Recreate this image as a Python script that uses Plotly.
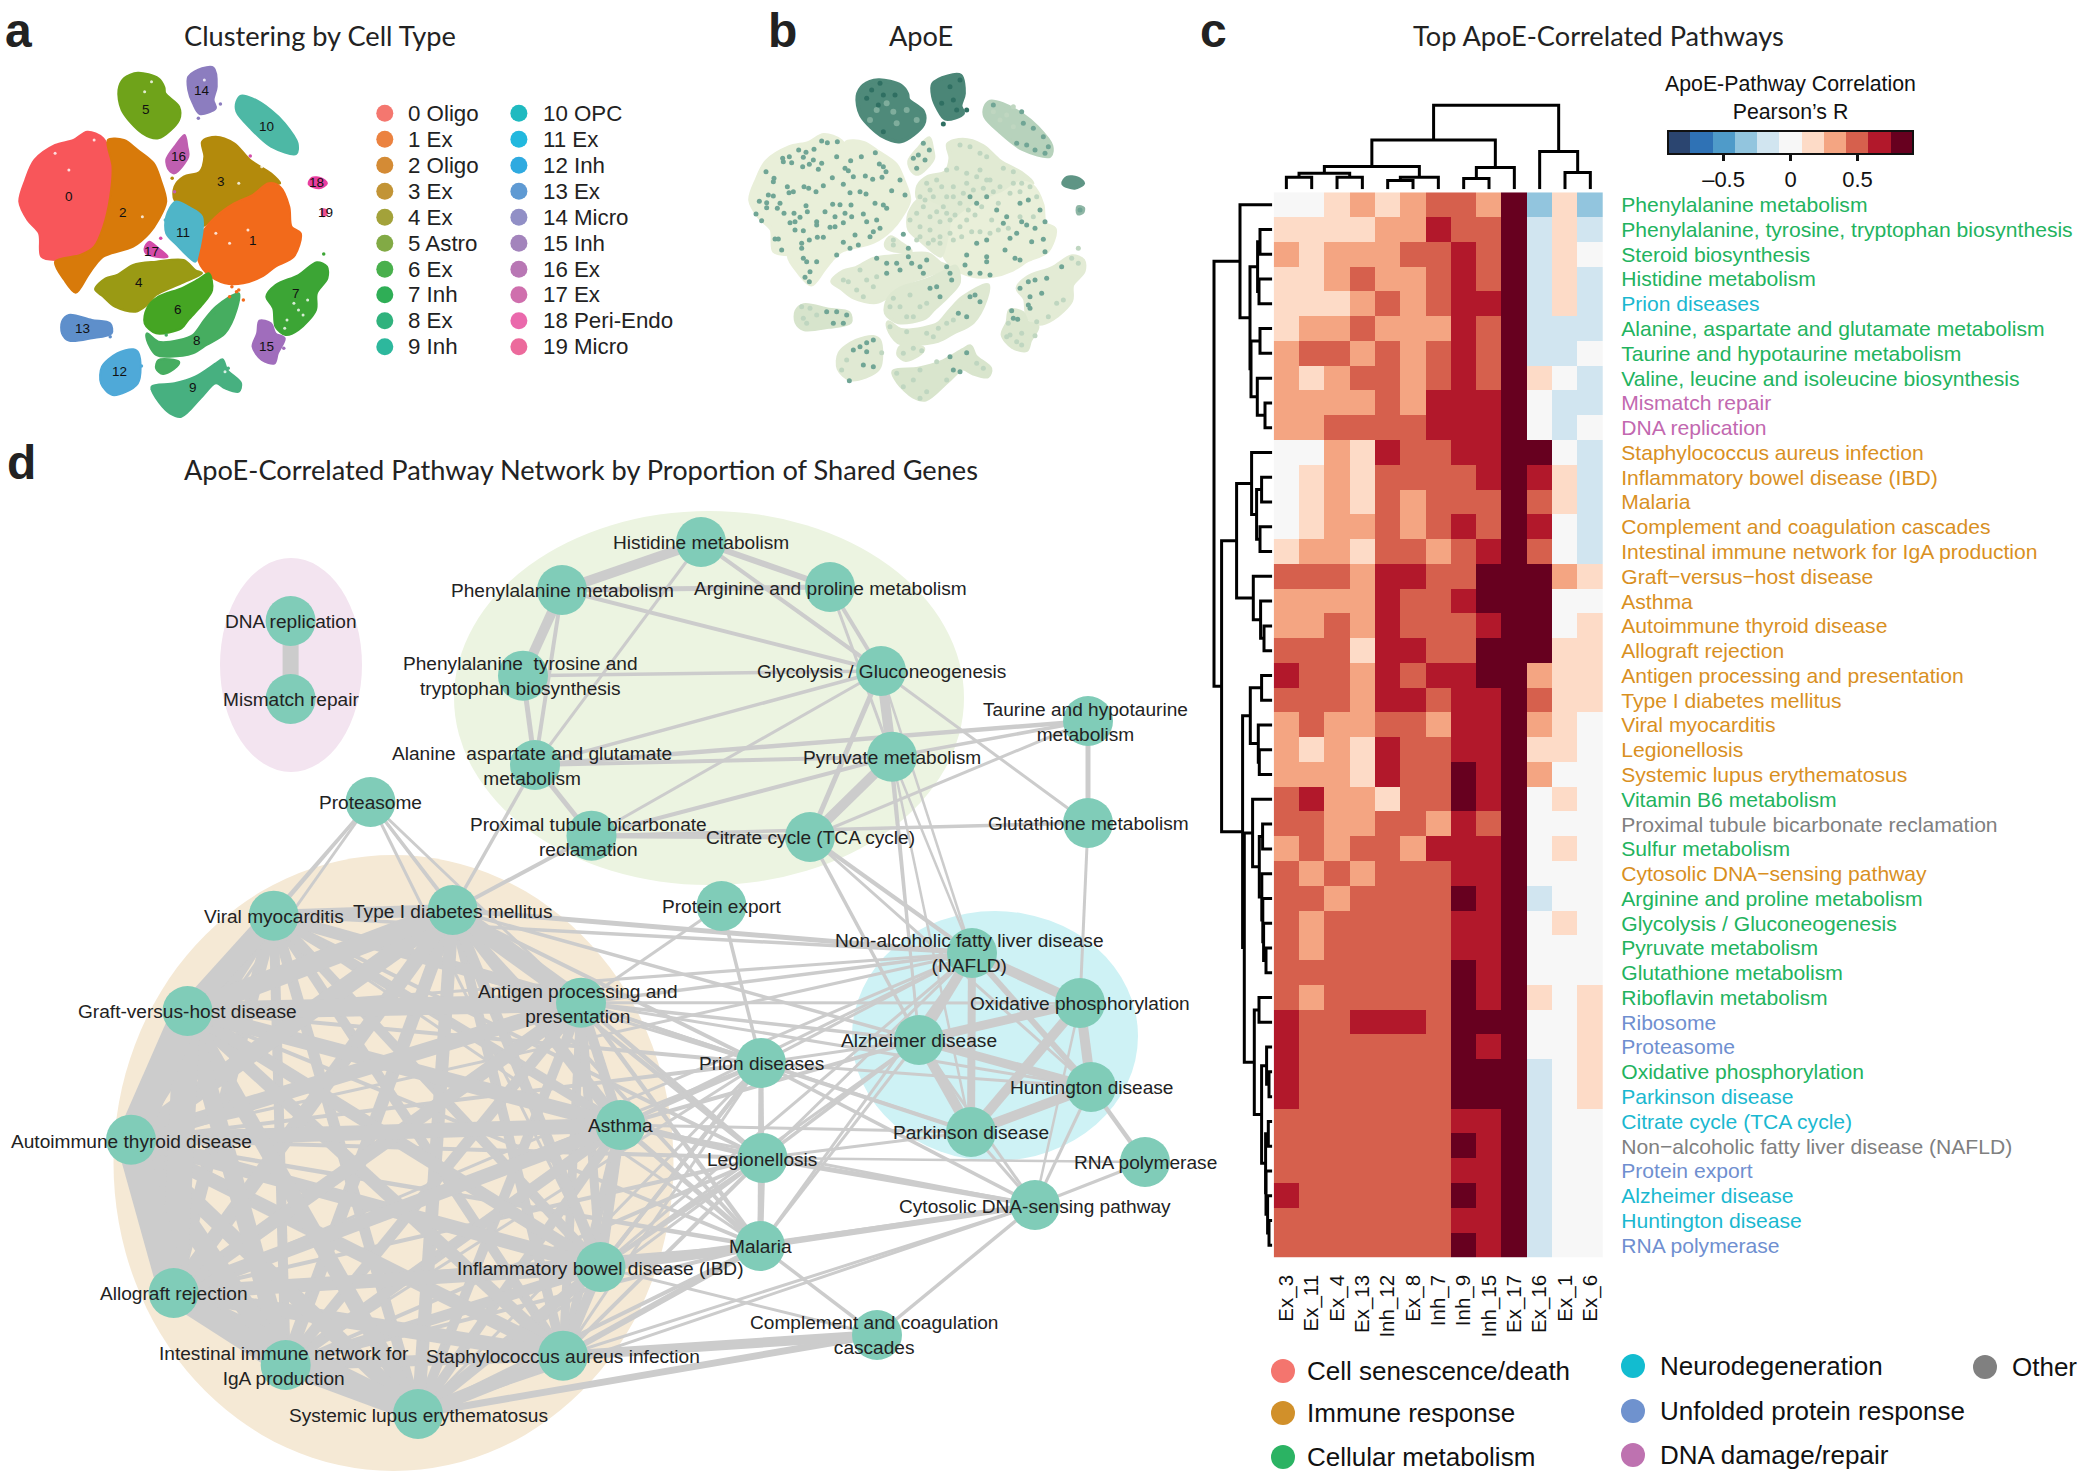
import plotly.graph_objects as go

W, H = 2083, 1477
SANS = "Liberation Sans"
TITLE = "Lato"

# ---------- panel a / b : embedding outlines (t-SNE units) ----------
c0 = [(190,395),(225,415),(245,500),(240,590),(225,680),(205,740),(175,765),(120,780),(90,770),(85,700),(60,660),(42,605),(55,540),(75,480),(120,435),(160,420)]
c1 = [(585,550),(610,560),(630,620),(635,680),(655,700),(640,770),(600,800),(570,830),(530,850),(490,850),(450,820),(430,770),(440,700),(470,650),(510,610),(550,585)]
c2 = [(235,420),(270,420),(300,450),(335,490),(350,540),(362,605),(345,660),(325,700),(290,740),(225,770),(205,800),(190,830),(165,878),(140,840),(120,785),(175,765),(205,740),(225,680),(240,590),(245,500)]
c3 = [(470,410),(510,430),(545,480),(590,520),(610,550),(585,550),(550,585),(510,610),(470,650),(440,680),(440,650),(410,620),(380,600),(380,560),(400,530),(435,515),(445,470),(440,425)]
c4 = [(290,795),(340,785),(400,780),(425,810),(440,820),(395,850),(340,885),(320,915),(295,935),(250,920),(225,890),(207,868),(230,835),(255,825)]
c5 = [(300,218),(345,235),(358,262),(360,280),(390,320),(390,360),(345,415),(310,400),(265,330),(258,270),(270,235)]
c6 = [(455,820),(462,870),(440,915),(410,960),(395,985),(340,1000),(315,970),(320,925),(345,890),(395,865),(430,840)]
c7 = [(690,787),(712,800),(713,835),(690,880),(688,930),(650,990),(622,1005),(600,980),(595,925),(580,890),(600,855),(650,825)]
c8 = [(520,880),(515,930),(490,1000),(450,1035),(420,1060),(370,1070),(340,1065),(320,1020),(320,1000),(345,1025),(390,1020),(420,1005),(445,960),(470,920)]
c8b = [(345,1080),(390,1085),(385,1100),(355,1122),(340,1105)]
c9 = [(485,1078),(495,1110),(525,1150),(520,1175),(490,1165),(470,1150),(440,1190),(395,1250),(370,1240),(340,1195),(330,1160),(380,1150),(425,1130),(470,1090)]
c10 = [(525,287),(550,295),(590,330),(620,370),(648,430),(645,462),(590,440),(545,385),(515,335),(515,305)]
c11 = [(382,605),(410,620),(440,650),(430,770),(425,785),(385,735),(362,700),(362,650)]
c12 = [(290,1048),(302,1060),(300,1150),(245,1185),(220,1150),(222,1100),(255,1060)]
c13 = [(150,945),(200,960),(240,970),(243,1000),(200,1015),(150,1022),(135,1000),(135,965)]
c14 = [(440,205),(465,203),(472,260),(465,300),(470,325),(435,342),(420,310),(410,270),(410,230)]
c15 = [(565,962),(590,970),(600,1000),(620,1015),(605,1060),(598,1090),(570,1080),(550,1040),(560,1000)]
c16 = [(402,405),(408,440),(410,470),(380,520),(368,510),(362,480),(380,440)]
c17 = [(325,725),(345,745),(365,770),(340,770),(318,760),(315,745)]
c18 = [(680,533),(700,535),(712,550),(695,565),(672,552)]
c19 = [(702,628),(712,632),(710,645),(702,648)]

cluster_outlines = [c0,c2,c3,c1,c11,c16,c17,c4,c6,c8,c8b,c5,c7,c9,c10,c12,c13,c14,c15,c18,c19]
cluster_ids =      [0, 2, 3, 1, 11, 16, 17, 4, 6, 8, 8, 5, 7, 9, 10, 12, 13, 14, 15, 18, 19]
cluster_colors = ["#F8565A","#F26A1B","#D87A0A","#B38A0C","#9A9A14","#6FA31A","#45A523","#3CA535","#46AD60","#47B080",
                  "#4DB8A5","#4FB5C8","#4FA9D8","#5E8FCB","#8C7DBF","#A06DBC","#BF5FB0","#D34CA9","#E83EA0","#EE4F90"]
apoe_fill = ["#E9EFD9","#E9EFD9","#E9EFD9","#E1EAD3","#E3EBD5","#4F8A7A","#DEE8D1","#E3EBD5","#DEE8D1","#D9E5CD",
             "#B7D2BC","#E3EBD5","#E0E9D3","#D7E4CC","#4B8677","#DCE7CF","#E3EBD5","#E3EBD5","#5F9585","#8FB6A5"]
label_x = [150,552,268,482,302,319,387,645,428,420,580,398,260,179,439,580,388,330,690,708]
label_y = [590,720,638,544,848,328,928,880,1020,1163,378,697,1115,985,272,1040,468,755,548,637]
stray_x = [375,380,350,360,480,432,545,705,500,520,530,465,618,308,332,497,515,505,362,240]
stray_y = [535,575,715,660,312,355,468,762,890,870,900,938,1045,1098,1168,1105,875,860,1005,1010]
stray_id = [3,16,17,11,14,14,17,7,1,1,1,8,15,12,9,9,1,1,8,13]
gap_x = [640,660,670,625,650,620,315,330,410,445,490,310,150,120,540,500,470,520,570,205]
gap_y = [910,945,900,960,930,985,275,245,300,240,1115,650,510,460,690,730,700,550,500,420]

legend_names = ["0 Oligo","1 Ex","2 Oligo","3 Ex","4 Ex","5 Astro","6 Ex","7 Inh","8 Ex","9 Inh",
                "10 OPC","11 Ex","12 Inh","13 Ex","14 Micro","15 Inh","16 Ex","17 Ex","18 Peri-Endo","19 Micro"]
legend_colors = ["#F4776F","#EB8240","#D48B35","#C29436","#A3A23A","#82AA45","#49B04C","#2FAE56","#30B27D","#2DB89D",
                 "#1FBAC0","#22B8DE","#2FAAE0","#5F9AD3","#918FC6","#A384BC","#B877B4","#CF6FAD","#EA69AC","#EC6A9C"]
legend_y = [340,418,496,574,652,730,808,884,962,1040]

# ---------- panel b : expressing cells ----------
dots_dark = [(305,303),(322,308),(352,305),(236,330),(258,337),(282,328),(188,355),(208,350),(190,365),(215,368),(250,352),(280,360),(305,370),(350,350),(392,362),(424,350),(466,338),(248,380),(268,373),(295,388),(375,385),(385,392),(400,410),(478,372),(490,380),(138,395),(162,415),(160,425),(436,408),(458,418),(486,412),(498,395),(337,413),(370,433),(202,440),(207,458),(220,455),(252,440),(266,445),(288,455),(310,437),(390,458),(420,455),(438,462),(515,452),(540,420),(555,465),(118,484),(145,465),(160,468),(140,488),(180,490),(140,503),(172,505),(258,497),(338,493),(360,494),(393,495),(465,490),(490,495),(500,505),(108,522),(192,520),(222,520),(262,515),(315,515),(375,520),(430,522),(125,542),(240,532),(225,545),(210,548),(290,545),(345,530),(395,530),(440,545),(470,540),(225,570),(250,572),(290,555),(330,562),(345,560),(370,548),(480,565),(460,575),(165,597),(175,597),(268,600),(292,592),(310,592),(370,607),(405,585),(450,590),(185,630),(245,610),(245,625),(390,625),(415,615),(350,645),(250,655),(260,665),(290,665),(270,695),(255,712),(268,725),
             (750,470),(770,490),(800,470),(830,510),(860,530),(900,490),(925,480),(960,510),(975,545),(920,555),(945,565),(890,580),(870,595),(905,545),(850,550),(800,600),(770,610),(740,645),(735,675),(800,650),(800,665),(855,630),(885,655),(900,660),(935,605),(970,598),(975,635),(750,700),(780,700),(810,705),(690,700),(695,720),(680,680),(565,625),(550,583),
             (470,655),(500,670),(530,670),(565,650),(575,670),(600,680),(620,660),(610,700),(540,690),(500,700),(630,745),(650,740),(660,770),(765,765),(750,770),(740,830),(780,785),(715,820),
             (900,745),(925,725),(945,720),(980,715),(1025,680),(930,770),(965,760),(925,795),(930,805),(875,812),(880,835),(893,838),(320,815),(350,815),(380,825),(370,850),(340,850),
             (460,900),(440,908),(420,920),(400,930),(430,975),(460,980),(388,1022),(440,935),(690,950),(740,938),(700,990),(720,995),(610,310),(628,330),(595,345),(615,360),(580,355),(590,385),(1080,510),(820,195),(905,215),(910,250),(940,265),(970,290),(985,320),(920,315),(945,330),(975,340),(890,310)]
dots_light = [(720,315),(750,320),(780,340),(800,350),(680,390),(710,385),(740,400),(780,390),(800,420),(850,385),(880,395),(620,430),(650,420),(700,440),(740,430),(770,410),(810,420),(640,470),(680,470),(720,490),(610,500),(630,530),(670,500),(570,540),(600,560),(630,570),(690,540),(720,560),(590,600),(625,610),(660,590),(690,580),(740,540),(520,600),(520,615),(880,430),(930,440),(900,455),
              (600,470),(615,480),(650,515),(660,545),(680,520),(705,525),(745,510),(765,525),(785,500),(815,540),(835,490),(870,460),(905,430),(820,455),(840,440),(790,445),(760,450),(730,460),(700,470),(665,440),(630,450),(590,520),(600,590),(640,600),(660,610),(700,600),(725,590),(755,575),(780,575),(810,580),(835,570),(865,565),(900,530),(940,530),(950,470),
              (370,720),(385,725),(410,750),(430,770),(460,740),(420,690),(440,720),(470,710),(520,775),(540,800),(560,830),(580,830),(600,800),(570,765),(510,800),(620,790),(700,840),(680,850),(655,865),(620,880),(560,875),(510,860),(640,890),
              (1055,655),(1075,670),(1010,790),(985,830),(1030,780),(950,845),(865,850),(870,885),(905,880),(905,915),(890,905),(860,890),(245,800),(270,805),(290,825),(250,835),(260,850),(380,960),(365,990),(650,965),(600,990),(580,1020),(620,1055),(600,1075),(550,1040),(530,1000),(680,1020),(790,985),(770,970),(550,940),(580,925),(605,932),(820,215),(880,200),(840,240),(880,260),(860,225),(485,938),(945,887),(1075,625)]
dots_teal = [(455,150),(490,165),(525,165),(475,195),(440,175),(490,275),(690,140),(720,120),(710,210),(665,190),(700,180),(480,130),(740,210),(670,252)]
dots_pale_teal = [(500,190),(520,215),(560,210),(470,210),(530,250),(450,240),(590,240)]

# ---------- panel c : heatmap ----------
col_labels = ["Ex_3","Ex_11","Ex_4","Ex_13","Inh_12","Ex_8","Inh_7","Inh_9","Inh_15","Ex_17","Ex_16","Ex_1","Ex_6"]
row_labels = ["Phenylalanine metabolism","Phenylalanine, tyrosine, tryptophan biosynthesis","Steroid biosynthesis","Histidine metabolism","Prion diseases","Alanine, aspartate and glutamate metabolism","Taurine and hypotaurine metabolism","Valine, leucine and isoleucine biosynthesis","Mismatch repair","DNA replication",
 "Staphylococcus aureus infection","Inflammatory bowel disease (IBD)","Malaria","Complement and coagulation cascades","Intestinal immune network for IgA production","Graft−versus−host disease","Asthma","Autoimmune thyroid disease","Allograft rejection","Antigen processing and presentation",
 "Type I diabetes mellitus","Viral myocarditis","Legionellosis","Systemic lupus erythematosus","Vitamin B6 metabolism","Proximal tubule bicarbonate reclamation","Sulfur metabolism","Cytosolic DNA−sensing pathway","Arginine and proline metabolism","Glycolysis / Gluconeogenesis",
 "Pyruvate metabolism","Glutathione metabolism","Riboflavin metabolism","Ribosome","Proteasome","Oxidative phosphorylation","Parkinson disease","Citrate cycle (TCA cycle)","Non−alcoholic fatty liver disease (NAFLD)","Protein export","Alzheimer disease","Huntington disease","RNA polymerase"]
MET,NEU,DNA_C,IMM,OTH,UPR = "#22B35E","#1AB8D0","#C268B0","#D9901F","#808080","#6F8FD0"
row_colors = [MET,MET,MET,MET,NEU,MET,MET,MET,DNA_C,DNA_C, IMM,IMM,IMM,IMM,IMM,IMM,IMM,IMM,IMM,IMM,
              IMM,IMM,IMM,IMM,MET,OTH,MET,IMM,MET,MET, MET,MET,MET,UPR,UPR,MET,NEU,NEU,OTH,UPR,NEU,NEU,UPR]
heat_levels = [
 [0,0,1,2,1,2,3,3,2,5,-2,1,-2],[1,1,1,1,2,2,4,3,3,5,-1,1,-1],[2,1,2,2,2,3,3,4,3,5,-1,1,0],[1,1,2,3,2,2,3,4,3,5,-1,1,-1],
 [1,1,1,2,3,2,3,4,4,5,-1,1,-1],[1,2,2,3,2,2,2,4,3,5,-1,-1,-1],[2,3,3,2,3,2,3,4,3,5,-1,-1,0],[2,1,2,3,3,2,3,4,3,5,1,0,-1],
 [2,2,2,2,3,2,4,4,4,5,0,-1,-1],[2,2,3,3,3,3,4,4,4,5,0,-1,0],[0,0,2,1,4,3,3,4,4,5,5,0,-1],[0,1,2,1,3,3,3,3,4,5,4,1,-1],
 [0,1,2,1,3,2,3,3,3,5,3,1,-1],[0,1,2,2,3,2,3,4,3,5,4,0,-1],[1,2,2,1,3,3,2,3,4,5,3,0,-1],[3,3,3,2,4,4,3,3,5,5,5,2,1],
 [2,2,2,2,4,3,3,4,5,5,5,0,0],[2,2,3,2,4,3,3,3,4,5,5,0,1],[3,3,3,1,4,4,3,3,5,5,5,1,1],[4,3,3,2,4,3,4,4,5,5,2,1,1],
 [3,3,3,2,4,4,3,4,4,5,3,1,1],[2,3,2,2,3,3,2,4,4,5,2,1,0],[2,1,2,1,4,3,3,4,4,5,1,1,0],[2,2,2,1,4,3,3,5,4,5,2,0,0],
 [3,4,2,2,1,3,3,5,4,5,0,1,0],[3,3,2,2,3,3,2,4,3,5,0,0,0],[2,3,2,3,3,2,4,4,4,5,0,1,0],[3,2,3,2,3,3,3,4,4,5,0,0,0],
 [3,3,2,3,3,3,3,5,4,5,-1,0,0],[3,2,3,3,3,3,3,4,4,5,0,1,0],[3,2,3,3,3,3,3,4,4,5,0,0,0],[3,3,3,3,3,3,3,5,4,5,0,0,0],
 [3,2,3,3,3,3,3,5,4,5,1,0,1],[4,3,3,4,4,4,3,5,5,5,0,0,1],[4,3,3,3,3,3,3,5,4,5,0,0,1],[4,3,3,3,3,3,3,5,5,5,-1,0,1],
 [4,3,3,3,3,3,3,5,5,5,-1,0,1],[3,3,3,3,3,3,3,4,4,5,-1,0,0],[3,3,3,3,3,3,3,5,4,5,-1,0,0],[3,3,3,3,3,3,3,4,4,5,-1,0,0],
 [4,3,3,3,3,3,3,5,4,5,-1,0,0],[3,3,3,3,3,3,3,4,4,5,-1,0,0],[3,3,3,3,3,3,3,5,4,5,-1,0,0]]
R_PER_LEVEL = 0.1664
R_LIMIT = 0.915
bin_colors = ["#2B4570","#2F72B5","#4F9BC9","#92C5DE","#D1E5F0","#F7F7F7","#FDDBC7","#F4A582","#D6604D","#B2182B","#67001F"]

# dendrogram merges: (left, right, height); ints are leaves, "mK" refers to the K-th merge
row_merges = [(1,2,12.3),(3,4,13.3),("m0","m1",14.7),(5,6,12.3),(8,9,7.3),(7,"m4",15),("m3","m5",21.3),("m2","m6",22.3),(0,"m7",32.3),
 (11,12,10.7),(13,14,12.3),("m9","m10",15.7),(10,"m11",20.7),(17,18,8.3),(16,"m13",11.7),(15,"m14",19),("m12","m15",35.7),
 (19,20,10.7),(22,23,13),(21,"m18",14),("m17","m19",22),(25,26,9.7),(30,31,6.3),(29,"m22",8.7),(28,"m23",9.5),(27,"m24",10.5),("m21","m25",13),(24,"m26",19.7),
 (32,33,13.3),(35,36,3.3),(34,"m29",5.7),(37,38,4),(41,42,3.3),(40,"m32",4.7),(39,"m33",6.3),("m31","m34",6.7),("m30","m35",10.7),("m28","m36",18),
 ("m27","m37",28),("m20","m38",29.7),("m16","m39",50.7),("m8","m40",58.3)]
col_merges = [(0,1,12),(2,3,12),("m0","m1",16),(4,5,8.7),("m3",6,12),("m2","m4",22.7),(7,8,10.7),("m6",9,21.7),("m5","m7",49.3),(11,12,16.7),(10,"m9",37.7),("m8","m10",84)]

# ---------- panel d : pathway network (layout units) ----------
node_keys = ["DNA","MMR","PHE","PTT","HIS","ARG","GLY","PYR","ALA","PRX","TCA","TAU","GSH","PRT","VIR","T1D","PEX","AGP","NAF","OXP","ALZ","HUN","PAR","PRI","AST","LEG","RNA","CDS","MAL","IBD","STA","CMP","GVH","AIT","ALL","IGA","SLE"]
node_x = [290.6,290.6,562,523,701,830,881,892,535,591.5,810,1088,1088,370.5,273.7,452.7,721.5,581,972,1080,919,1091,971,761,620.5,762.5,1145,1035,760,600.5,563,877,187.5,131,173.7,285.7,418]
node_y = [621,699,590,675.7,542,587,671,756.7,765,835.7,837,721,823,802,915.7,910,906,1002.7,953,1003,1040,1087,1132,1063,1125,1158,1162,1205,1246,1267,1355.7,1335,1011,1139.7,1293,1365,1414]
node_text = ["DNA replication","Mismatch repair","Phenylalanine metabolism","Phenylalanine\u00a0 tyrosine and<br>tryptophan biosynthesis","Histidine metabolism","Arginine and proline metabolism","Glycolysis / Gluconeogenesis","Pyruvate metabolism",
 "Alanine\u00a0 aspartate and glutamate<br>metabolism","Proximal tubule bicarbonate<br>reclamation","Citrate cycle (TCA cycle)","Taurine and hypotaurine<br>metabolism","Glutathione metabolism","Proteasome","Viral myocarditis","Type I diabetes mellitus","Protein export",
 "Antigen processing and<br>presentation","Non-alcoholic fatty liver disease<br>(NAFLD)","Oxidative phosphorylation","Alzheimer disease","Huntington disease","Parkinson disease","Prion diseases","Asthma","Legionellosis","RNA polymerase","Cytosolic DNA-sensing pathway","Malaria",
 "Inflammatory bowel disease (IBD)","Staphylococcus aureus infection","Complement and coagulation<br>cascades","Graft-versus-host disease","Autoimmune thyroid disease","Allograft rejection","Intestinal immune network for<br>IgA production","Systemic lupus erythematosus"]
text_x = [290.6,290.6,562,520,701,830,881,892,532,588,810,1085,1088,370.5,273.7,453,722,578,969,1080,919,1091,971,761,620.5,762,1145,1035,760,600.5,563,874,187,131,174,283.5,418]
text_y = [621,699,590,676,542,588,671,757,766,836.6,837,721.7,823.7,802,916,911,906.7,1004,953,1003,1040,1087.7,1132,1063,1125.7,1159,1162,1206,1246,1268,1356,1335,1011.7,1141,1293,1365.7,1415]

edges = [("DNA","MMR",16),
 ("HIS","PHE",10),("PHE","ARG",5),("HIS","ARG",6),("HIS","GLY",4),("HIS","ALA",3),("PHE","PTT",10),("PHE","ALA",4),("PTT","ALA",5),("PHE","GLY",4),("PTT","GLY",3.5),
 ("ARG","GLY",4),("ARG","PYR",3),("GLY","PYR",10),("GLY","TCA",5),("PYR","TCA",10),("ALA","PYR",4),("ALA","GLY",3.5),("ALA","PRX",5),("ALA","T1D",3.5),("PRX","PYR",4),("PRX","GLY",3),("PRX","TCA",5),
 ("PYR","TAU",3.5),("ALA","TAU",4.5),("TCA","TAU",3),("TAU","GSH",5),("PRX","GSH",3.5),("GLY","GSH",3),("GSH","OXP",3),("T1D","PRX",4),
 ("PRT","VIR",3),("PRT","T1D",3),("PRT","GVH",3),("PRT","AGP",3),("PRT","AST",3),("PRT","AIT",3),("PRT","IBD",3),
 ("VIR","T1D",12),("TCA","NAF",4),("TCA","ALZ",3.5),("TCA","HUN",3),("PYR","NAF",2.5),("PYR","ALZ",2.5),("PYR","PAR",2.5),("GLY","ALZ",2.5),("GLY","NAF",2.5),
 ("T1D","NAF",5),("VIR","NAF",3.5),("T1D","ALZ",3.5),("GVH","NAF",3),("AIT","NAF",3),("ALL","NAF",3),
 ("NAF","OXP",10),("NAF","ALZ",10),("NAF","PAR",8),("NAF","HUN",6),("OXP","ALZ",9),("OXP","HUN",10),("OXP","PAR",10),("ALZ","HUN",9),("ALZ","PAR",10),("HUN","PAR",10),("HUN","RNA",4.5),("PAR","CDS",3),("HUN","CDS",3),("ALZ","CDS",3),("OXP","CDS",2.5),
 ("PEX","PRI",3.5),("PEX","AGP",3),("PRI","NAF",3),("PRI","ALZ",3),("PRI","LEG",4),("PRI","PAR",4),("PRI","MAL",5),("PRI","IBD",4),("PRI","CDS",3.5),("PRI","HUN",3),
 ("LEG","ALZ",3.5),("LEG","PAR",3),("LEG","NAF",3),("LEG","MAL",6),("LEG","CDS",5),("MAL","CDS",6),("MAL","ALZ",3),("MAL","NAF",3),("IBD","MAL",10),("STA","MAL",6),("STA","CMP",10),("SLE","CMP",7),("MAL","CMP",3.5),("CDS","CMP",3.5),("IBD","CMP",3),("RNA","CDS",3),("LEG","RNA",2.5),
 ("AGP","NAF",3.5),("AGP","ALZ",3.5),("AGP","PRI",4),("AGP","LEG",4.5),("AGP","MAL",4.5),("AGP","PAR",3),("AGP","HUN",3),("AGP","OXP",3),
 ("AST","NAF",3),("AST","ALZ",4),("AST","PRI",4),("AST","LEG",4.5),("AST","MAL",5),("AST","PAR",3),("AST","CDS",3),
 ("IBD","LEG",4.5),("IBD","PRI",4),("IBD","NAF",3),("IBD","ALZ",3),("IBD","CDS",4),("STA","LEG",4),("STA","PRI",3),("STA","CDS",3),("SLE","MAL",4),("SLE","LEG",3),("SLE","PRI",3),("SLE","CDS",3),
 ("IGA","LEG",4),("IGA","MAL",4),("IGA","PRI",3),("ALL","LEG",4),("ALL","MAL",4),("ALL","PRI",3),("AIT","LEG",4),("AIT","MAL",4.5),("AIT","PRI",4),("GVH","LEG",4),("GVH","MAL",4),("GVH","PRI",4),("T1D","LEG",4.5),("T1D","MAL",4),("T1D","PRI",4),("VIR","LEG",4),("VIR","MAL",3),("VIR","PRI",3),
 ("VIR","GVH",20),("VIR","AIT",15),("VIR","ALL",13),("VIR","IGA",10),("VIR","SLE",11),("VIR","STA",10),("VIR","IBD",10),("VIR","AST",10),("VIR","AGP",12),
 ("T1D","GVH",20),("T1D","AIT",18),("T1D","ALL",15),("T1D","IGA",13),("T1D","SLE",13),("T1D","STA",10),("T1D","IBD",11),("T1D","AST",12),("T1D","AGP",18),
 ("GVH","AIT",30),("GVH","ALL",26),("GVH","IGA",18),("GVH","SLE",16),("GVH","STA",13),("GVH","IBD",13),("GVH","AST",15),("GVH","AGP",18),
 ("AIT","ALL",30),("AIT","IGA",20),("AIT","SLE",16),("AIT","STA",14),("AIT","IBD",14),("AIT","AST",15),("AIT","AGP",15),
 ("ALL","IGA",23),("ALL","SLE",20),("ALL","STA",15),("ALL","IBD",14),("ALL","AST",14),("ALL","AGP",14),
 ("IGA","SLE",18),("IGA","STA",11),("IGA","IBD",11),("IGA","AST",11),("IGA","AGP",11),
 ("SLE","STA",13),("SLE","IBD",11),("SLE","AST",10),("SLE","AGP",10),
 ("STA","IBD",10),("STA","AST",9),("STA","AGP",9),("IBD","AST",10),("IBD","AGP",9),("AST","AGP",10)]

hull_cx = [291,709,393.5,995]
hull_cy = [665,698,1163,1036]
hull_rx = [71,255,280,143]
hull_ry = [107,187,308,125]
hull_color = ["#F3E4F0","#ECF4E1","#F5E9D5","#CEF2F5"]

cat_names = ["Cell senescence/death","Immune response","Cellular metabolism","Neurodegeneration","Unfolded protein response","DNA damage/repair","Other"]
cat_colors = ["#F4756E","#D1902A","#2BB363","#12BCD0","#6F92CE","#BE72B0","#808080"]
cat_dot_x = [1283,1283,1283,1633,1633,1633,1985]
cat_dot_y = [1371,1413,1457,1366,1411,1455,1367]
cat_text_x = [1305,1305,1305,1658,1658,1658,2010]

# ---------- helpers ----------
fig = go.Figure()

def axes(n, px0, px1, py0, py1, xr, yr):
    sx = "" if n == 1 else str(n)
    fig.update_layout(**{
        f"xaxis{sx}": dict(domain=[px0/W, px1/W], range=xr, visible=False, anchor=f"y{sx}"),
        f"yaxis{sx}": dict(domain=[1-py1/H, 1-py0/H], range=yr, visible=False, anchor=f"x{sx}")})

def tree_lines(merges):
    pos, hgt = {}, {}
    xs, ys = [], []
    for k, (a, b, h) in enumerate(merges):
        pa, pb = pos.get(a, a), pos.get(b, b)
        ha, hb = hgt.get(a, 0), hgt.get(b, 0)
        xs += [pa, pa, pb, pb, None]
        ys += [ha, h, h, hb, None]
        pos[f"m{k}"] = (pa + pb) / 2
        hgt[f"m{k}"] = h
    return xs, ys

def note(text, x, y, size, xref="x", yref="y", color="#111", font=SANS, xanchor="center"):
    fig.add_annotation(text=text, x=x, y=y, xref=xref, yref=yref, showarrow=False, xanchor=xanchor, yanchor="middle",
                       font=dict(family=font, size=size, color=color), align="center")

axes(1, 0, W, 0, H, [0, W], [H, 0])
HL, HR, HT, HB = 1273.7, 1603, 192.3, 1257.7
axes(3, 1200, 1272.3, HT, HB, [72.3, 0], [42.5, -0.5])
axes(4, HL, HR, 90, 189.3, [-0.5, 12.5], [0, 99.3])
axes(5, 0, 720, 0, 430, [0, 1568], [1290, 0])
axes(6, 720, 1240, 40, 440, [-18.8, 1027.7], [1380.8, 87.6])
axes(7, 720, 1240, 40, 440, [0, 1560], [1200, 0])

fig.update_layout(
    xaxis2=dict(domain=[HL/W, HR/W], range=[-0.5, 12.5], anchor="y2", tickmode="array", tickvals=list(range(13)), ticktext=col_labels,
                tickangle=-90, ticks="outside", ticklen=8, tickcolor="rgba(0,0,0,0)", showgrid=False, zeroline=False, showline=False,
                tickfont=dict(family=SANS, size=20.5, color="#111")),
    yaxis2=dict(domain=[1-HB/H, 1-HT/H], range=[42.5, -0.5], anchor="x2", side="right", tickmode="array", tickvals=list(range(43)),
                ticktext=[f'<span style="color:{c}">{t}</span>' for t, c in zip(row_labels, row_colors)],
                ticks="outside", ticklen=13, tickcolor="rgba(0,0,0,0)", showgrid=False, zeroline=False, showline=False,
                tickfont=dict(family=SANS, size=21.1, color="#333")))

for cx, cy, rx, ry, col in zip(hull_cx, hull_cy, hull_rx, hull_ry, hull_color):
    fig.add_shape(type="circle", xref="x", yref="y", x0=cx-rx, x1=cx+rx, y0=cy-ry, y1=cy+ry, fillcolor=col, line_width=0, layer="below")

pos = {k: (x, y) for k, x, y in zip(node_keys, node_x, node_y)}
for w in sorted({e[2] for e in edges}):
    xs, ys = [], []
    for a, b, ww in edges:
        if ww == w:
            xs += [pos[a][0], pos[b][0], None]
            ys += [pos[a][1], pos[b][1], None]
    fig.add_trace(go.Scatter(x=xs, y=ys, mode="lines", line=dict(color="#CCCCCC", width=w), hoverinfo="skip", showlegend=False))
fig.add_trace(go.Scatter(x=node_x, y=node_y, mode="markers", marker=dict(size=50, color="#80CCB8"), hovertext=node_keys, showlegend=False))
for t, x, y in zip(node_text, text_x, text_y):
    note(t, x, y, 19.1, color="#222")

for poly, cid in zip(cluster_outlines, cluster_ids):
    px = [p[0] for p in poly] + [poly[0][0]]
    py = [p[1] for p in poly] + [poly[0][1]]
    fig.add_trace(go.Scatter(x=px, y=py, xaxis="x5", yaxis="y5", mode="lines", fill="toself", fillcolor=cluster_colors[cid],
                             line=dict(color=cluster_colors[cid], width=2, shape="spline", smoothing=0.9), hoverinfo="skip", showlegend=False))
    fig.add_trace(go.Scatter(x=px, y=py, xaxis="x6", yaxis="y6", mode="lines", fill="toself", fillcolor=apoe_fill[cid],
                             line=dict(color=apoe_fill[cid], width=4, shape="spline", smoothing=0.9), hoverinfo="skip", showlegend=False))
fig.add_trace(go.Scatter(x=gap_x, y=gap_y, xaxis="x5", yaxis="y5", mode="markers", marker=dict(size=3, color="rgba(255,255,255,0.8)"), hoverinfo="skip", showlegend=False))
fig.add_trace(go.Scatter(x=stray_x, y=stray_y, xaxis="x5", yaxis="y5", mode="markers", marker=dict(size=3.5, color=[cluster_colors[i] for i in stray_id]), hoverinfo="skip", showlegend=False))
for cid, (lx, ly) in enumerate(zip(label_x, label_y)):
    note(str(cid), lx, ly, 13.5, xref="x5", yref="y5", color="#111")
legend_dot_x = [838]*10 + [1130]*10
legend_text_x = [885]*10 + [1178]*10
legend_dot_y = legend_y + legend_y
fig.add_trace(go.Scatter(x=legend_dot_x, y=legend_dot_y, xaxis="x5", yaxis="y5", mode="markers", marker=dict(size=17, color=legend_colors), showlegend=False, hoverinfo="skip"))
for t, x, y in zip(legend_names, legend_text_x, legend_dot_y):
    note(t, x, y, 22.3, xref="x5", yref="y5", color="#222", xanchor="left")

for pts, col, sz in [(dots_light, "#BFD6C0", 5), (dots_dark, "#70A595", 5), (dots_pale_teal, "#7FAD9C", 6), (dots_teal, "#2F6F62", 5)]:
    fig.add_trace(go.Scatter(x=[p[0] for p in pts], y=[p[1] for p in pts], xaxis="x7", yaxis="y7", mode="markers",
                             marker=dict(size=sz, color=col), hoverinfo="skip", showlegend=False))

scale = []
for i, c in enumerate(bin_colors):
    scale += [[i/11, c], [(i+1)/11, c]]
fig.add_trace(go.Heatmap(z=[[v*R_PER_LEVEL for v in row] for row in heat_levels], xaxis="x2", yaxis="y2", colorscale=scale, zmin=-R_LIMIT, zmax=R_LIMIT,
    hoverinfo="skip",
    colorbar=dict(orientation="h", lenmode="pixels", len=245, thicknessmode="pixels", thickness=23, x=1790.5/W, xanchor="center", y=1-131/H, yanchor="top",
                  xpad=0, ypad=0, outlinecolor="#111", outlinewidth=2, ticks="outside", ticklen=6, tickwidth=2.5, tickcolor="#111",
                  tickmode="array", tickvals=[-0.5, 0, 0.5], ticktext=["–0.5", "0", "0.5"], tickfont=dict(family=SANS, size=22, color="#111"))))
note("ApoE-Pathway Correlation<br>Pearson’s R", 1790, 98, 21.3, color="#111")

rx, ry = tree_lines(row_merges)
fig.add_trace(go.Scatter(x=ry, y=rx, xaxis="x3", yaxis="y3", mode="lines", line=dict(color="#000", width=3), hoverinfo="skip", showlegend=False))
cx, cy = tree_lines(col_merges)
fig.add_trace(go.Scatter(x=cx, y=cy, xaxis="x4", yaxis="y4", mode="lines", line=dict(color="#000", width=3), hoverinfo="skip", showlegend=False))

fig.add_trace(go.Scatter(x=cat_dot_x, y=cat_dot_y, mode="markers", marker=dict(size=24, color=cat_colors), hoverinfo="skip", showlegend=False))
for t, x, y in zip(cat_names, cat_text_x, cat_dot_y):
    note(t, x, y, 26, color="#111", xanchor="left")

note("Clustering by Cell Type", 320, 35, 27.2, font=TITLE, color="#222")
note("ApoE", 921, 35, 27.2, font=TITLE, color="#222")
note("Top ApoE-Correlated Pathways", 1598, 35, 27.2, font=TITLE, color="#222")
note("ApoE-Correlated Pathway Network by Proportion of Shared Genes", 581, 469, 27.2, font=TITLE, color="#222")
for t, x, y in [("a", 18, 30), ("b", 782, 30), ("c", 1213, 30), ("d", 21, 462)]:
    note(f"<b>{t}</b>", x, y, 48, color="#222")

fig.update_layout(width=W, height=H, autosize=False, margin=dict(l=0, r=0, t=0, b=0, pad=0), paper_bgcolor="white", plot_bgcolor="rgba(0,0,0,0)", showlegend=False)
fig.write_html("out.html", config=dict(displayModeBar=False), post_script="document.body.style.margin='0';document.documentElement.style.overflow='hidden';")
